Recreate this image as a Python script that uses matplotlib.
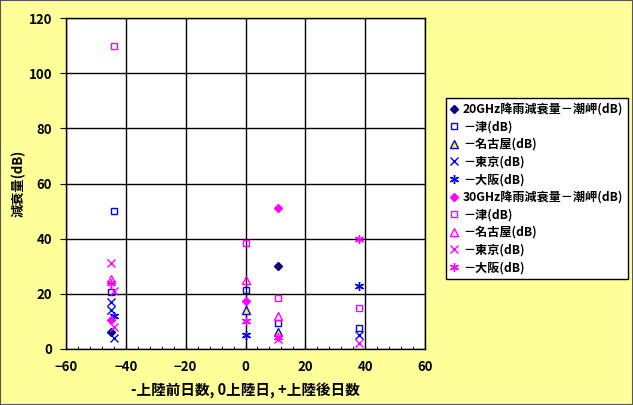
import matplotlib
matplotlib.use("Agg")
import matplotlib.pyplot as plt
from matplotlib.patches import Rectangle

plt.rcParams['font.family'] = ['Noto Sans CJK JP', 'DejaVu Sans']
plt.rcParams['font.weight'] = 'bold'

# Days relative to typhoon landfall (x) and attenuation in dB (y) per series
x_20_shio = [-45, 11]
y_20_shio = [6, 30]
x_20_tsu = [-44, -45, 0, 11, 38]
y_20_tsu = [50, 20.5, 21.5, 9.3, 7.5]
x_20_nagoya = [0, 11]
y_20_nagoya = [14, 6.3]
x_20_tokyo = [-45, -45, -44, 38]
y_20_tokyo = [17, 14, 4, 5]
x_20_osaka = [-44, 0, 38]
y_20_osaka = [12, 5, 23]

x_30_shio = [-45, 0, 11]
y_30_shio = [10.5, 17.5, 51]
x_30_tsu = [-44, 0, 11, 38]
y_30_tsu = [110, 38.5, 18.4, 15]
x_30_nagoya = [-45, 0, 11]
y_30_nagoya = [25.5, 25, 12]
x_30_tokyo = [-45, -44, -44, 11, 38]
y_30_tokyo = [31, 21, 8, 3.6, 2.3]
x_30_osaka = [-45, 0, 11, 38]
y_30_osaka = [24, 10.3, 4.5, 40]

labels = [
    "20GHz降雨減衰量－潮岬(dB)", "－津(dB)", "－名古屋(dB)", "－東京(dB)", "－大阪(dB)",
    "30GHz降雨減衰量－潮岬(dB)", "－津(dB)", "－名古屋(dB)", "－東京(dB)", "－大阪(dB)",
]

NAVY = "#000080"
BLUE = "#0000FF"
MAG = "#FF00FF"
ASTER = (6, 2, 0)

series = [
    (x_20_shio, y_20_shio, dict(marker="D", color=NAVY, mfc=NAVY, ms=4.5)),
    (x_20_tsu, y_20_tsu, dict(marker="s", color=BLUE, mfc="none", ms=5)),
    (x_20_nagoya, y_20_nagoya, dict(marker="^", color=BLUE, mfc="#FFFF00", ms=5.5)),
    (x_20_tokyo, y_20_tokyo, dict(marker="x", color=BLUE, ms=5.5)),
    (x_20_osaka, y_20_osaka, dict(marker=ASTER, color=BLUE, ms=6.5)),
    (x_30_shio, y_30_shio, dict(marker="D", color=MAG, mfc=MAG, ms=4.5)),
    (x_30_tsu, y_30_tsu, dict(marker="s", color=MAG, mfc="none", ms=5)),
    (x_30_nagoya, y_30_nagoya, dict(marker="^", color=MAG, mfc="none", ms=5.5)),
    (x_30_tokyo, y_30_tokyo, dict(marker="x", color=MAG, ms=5.5)),
    (x_30_osaka, y_30_osaka, dict(marker=ASTER, color=MAG, ms=6.5)),
]

fig = plt.figure(figsize=(6.33, 4.05), dpi=100, facecolor="#FFFF99")
ax = fig.add_axes([66 / 633, 56 / 405, 359 / 633, 331 / 405])
ax.set_facecolor("white")

for (xs, ys, st), lab in zip(series, labels):
    ax.plot(xs, ys, linestyle="none", mew=1.0, label=lab, **st)

ax.set_xlim(-60, 60)
ax.set_ylim(0, 120)
ax.set_xticks(range(-60, 61, 20))
ax.set_yticks(range(0, 121, 20))
ax.set_xticks(range(-60, 61, 4), minor=True)
ax.grid(True, which="major", color="black", linewidth=1.0)
ax.set_axisbelow(True)
for sp in ax.spines.values():
    sp.set_color("black")
    sp.set_linewidth(1.0)
ax.tick_params(axis="x", which="major", direction="in", length=4, labelsize=9.5, pad=8)
ax.tick_params(axis="x", which="minor", direction="in", length=2.5)
ax.tick_params(axis="y", which="major", direction="out", length=4, labelsize=9.5, pad=6)
for t in ax.get_xticklabels() + ax.get_yticklabels():
    t.set_fontweight("bold")

ax.set_xlabel("-上陸前日数, 0上陸日, +上陸後日数", fontsize=10.5,
              fontweight="bold", labelpad=6)
ax.set_ylabel("減衰量(dB)", fontsize=9.5, fontweight="bold", labelpad=2)

leg = fig.legend(loc="upper left", bbox_to_anchor=(446 / 633, 1 - 98 / 405),
                 frameon=True, fancybox=False, handlelength=0.6,
                 handletextpad=0.4, labelspacing=0.38, borderpad=0.4,
                 borderaxespad=0, prop=dict(weight="bold", size=8.7))
leg.get_frame().set_edgecolor("black")
leg.get_frame().set_facecolor("white")
leg.get_frame().set_alpha(1.0)
leg.get_frame().set_linewidth(1.0)

fig.patches.append(Rectangle((0, 0), 1, 1, transform=fig.transFigure,
                             fill=False, edgecolor="#555555", linewidth=1.5))

fig.savefig("out.png", dpi=100, facecolor=fig.get_facecolor())
